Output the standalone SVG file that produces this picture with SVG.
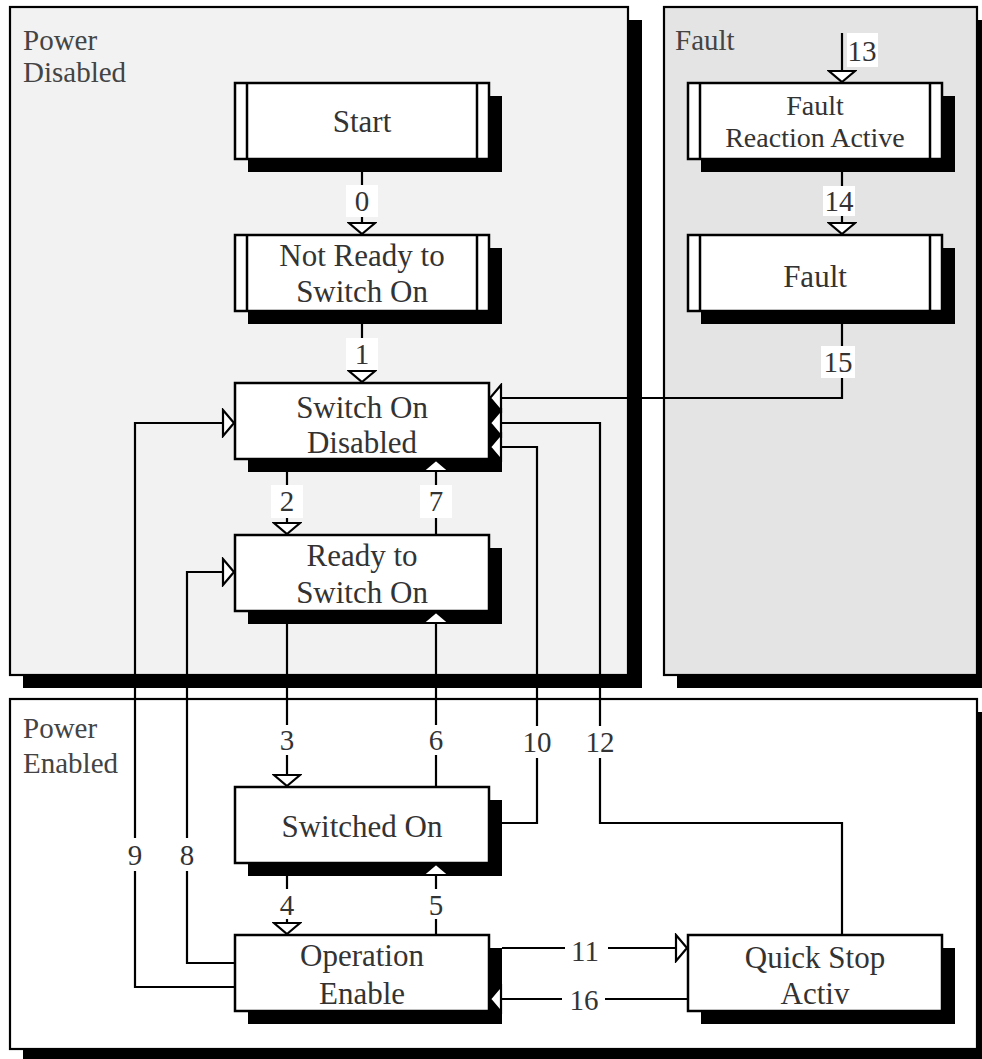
<svg xmlns="http://www.w3.org/2000/svg" width="982" height="1059" viewBox="0 0 982 1059">
<defs>
<style>
.panel{stroke:#000;stroke-width:2.2}
.shadow{fill:#000}
.box{fill:#fff;stroke:#000;stroke-width:2.5}
.inner{stroke:#000;stroke-width:2.5}
.t{font-family:"Liberation Serif","Times New Roman",serif;font-size:31px;fill:#333;text-anchor:middle}
.pl{font-family:"Liberation Serif","Times New Roman",serif;font-size:29px;fill:#444}
.small{font-size:28px}
.c{fill:none;stroke:#000;stroke-width:2.2;marker-end:url(#arr)}
.lbg{fill:#fff}
.lt{font-family:"Liberation Serif","Times New Roman",serif;font-size:29px;fill:#333;text-anchor:middle}
</style>
<marker id="arr" viewBox="-15 -15 17 30" markerWidth="17" markerHeight="30" refX="0" refY="0" orient="auto" markerUnits="userSpaceOnUse">
<path d="M-1,0 L-12,-13 L-12,13 Z" fill="#fff" stroke="#000" stroke-width="2.2"/>
</marker>
</defs>

<g id="panel-power-disabled">
<rect class="shadow" x="23" y="20" width="619" height="668"/>
<rect class="panel" x="10" y="7" width="618" height="668" fill="#f2f2f2"/>
<text class="pl" x="23" y="50">Power</text>
<text class="pl" x="23" y="82">Disabled</text>
</g>
<g id="panel-fault">
<rect class="shadow" x="677" y="20" width="320" height="668"/>
<rect class="panel" x="664" y="7" width="313" height="668" fill="#e4e4e4"/>
<text class="pl" x="675" y="50">Fault</text>
</g>
<g id="panel-power-enabled">
<rect class="shadow" x="23" y="712" width="980" height="360"/>
<rect class="panel" x="10" y="699" width="967" height="350" fill="#fff"/>
<text class="pl" x="23" y="738">Power</text>
<text class="pl" x="23" y="773">Enabled</text>
</g>

<g id="node-start">
<rect class="shadow" x="248" y="96" width="254" height="76"/>
<rect class="box" x="235" y="83" width="254" height="76"/>
<line class="inner" x1="247" y1="83" x2="247" y2="159"/>
<line class="inner" x1="477" y1="83" x2="477" y2="159"/>
<text class="t" x="362" y="132">Start</text>
</g>
<g id="node-not-ready">
<rect class="shadow" x="248" y="248" width="254" height="76"/>
<rect class="box" x="235" y="235" width="254" height="76"/>
<line class="inner" x1="247" y1="235" x2="247" y2="311"/>
<line class="inner" x1="477" y1="235" x2="477" y2="311"/>
<text class="t" x="362" y="266">Not Ready to</text>
<text class="t" x="362" y="302">Switch On</text>
</g>
<g id="node-switch-on-disabled">
<rect class="shadow" x="248" y="396" width="254" height="76"/>
<rect class="box" x="235" y="383" width="254" height="76"/>
<text class="t" x="362" y="418">Switch On</text>
<text class="t" x="362" y="453">Disabled</text>
</g>
<g id="node-ready">
<rect class="shadow" x="248" y="548" width="254" height="76"/>
<rect class="box" x="235" y="535" width="254" height="76"/>
<text class="t" x="362" y="566">Ready to</text>
<text class="t" x="362" y="603">Switch On</text>
</g>
<g id="node-switched-on">
<rect class="shadow" x="248" y="800" width="254" height="76"/>
<rect class="box" x="235" y="787" width="254" height="76"/>
<text class="t" x="362" y="837">Switched On</text>
</g>
<g id="node-operation-enable">
<rect class="shadow" x="248" y="948" width="254" height="76"/>
<rect class="box" x="235" y="935" width="254" height="76"/>
<text class="t" x="362" y="966">Operation</text>
<text class="t" x="362" y="1004">Enable</text>
</g>
<g id="node-quick-stop">
<rect class="shadow" x="701" y="948" width="254" height="76"/>
<rect class="box" x="688" y="935" width="254" height="76"/>
<text class="t" x="815" y="968">Quick Stop</text>
<text class="t" x="815" y="1004">Activ</text>
</g>
<g id="node-fault-reaction">
<rect class="shadow" x="701" y="96" width="254" height="76"/>
<rect class="box" x="688" y="83" width="254" height="76"/>
<line class="inner" x1="700" y1="83" x2="700" y2="159"/>
<line class="inner" x1="930" y1="83" x2="930" y2="159"/>
<text class="t small" x="815" y="115">Fault</text>
<text class="t small" x="815" y="147">Reaction Active</text>
</g>
<g id="node-fault">
<rect class="shadow" x="701" y="248" width="254" height="76"/>
<rect class="box" x="688" y="235" width="254" height="76"/>
<line class="inner" x1="700" y1="235" x2="700" y2="311"/>
<line class="inner" x1="930" y1="235" x2="930" y2="311"/>
<text class="t" x="815" y="287">Fault</text>
</g>

<g id="connectors">
<path class="c" d="M362,172 V235"/>
<path class="c" d="M362,324 V383"/>
<path class="c" d="M287,472 V535"/>
<path class="c" d="M436,535 V459"/>
<path class="c" d="M287,624 V787"/>
<path class="c" d="M436,787 V611"/>
<path class="c" d="M287,876 V935"/>
<path class="c" d="M436,935 V863"/>
<path class="c" d="M235,987 H135 V423 H235"/>
<path class="c" d="M235,963 H187 V572 H235"/>
<path class="c" d="M502,823 H537 V447 H489"/>
<path class="c" d="M842,935 V823 H600 V423 H489"/>
<path class="c" d="M502,948 H688"/>
<path class="c" d="M688,999 H489"/>
<path class="c" d="M842,33 V83"/>
<path class="c" d="M842,172 V235"/>
<path class="c" d="M842,324 V398 H489"/>

<g id="labels">
<rect class="lbg" x="346" y="185" width="32" height="32"/><text class="lt" x="362" y="211">0</text>
<rect class="lbg" x="346" y="338" width="32" height="32"/><text class="lt" x="362" y="364">1</text>
<rect class="lbg" x="271" y="485" width="32" height="33"/><text class="lt" x="287" y="511">2</text>
<rect class="lbg" x="420" y="485" width="32" height="33"/><text class="lt" x="436" y="511">7</text>
<rect class="lbg" x="271" y="725" width="32" height="30"/><text class="lt" x="287" y="750">3</text>
<rect class="lbg" x="420" y="725" width="32" height="30"/><text class="lt" x="436" y="750">6</text>
<rect class="lbg" x="518" y="726" width="38" height="32"/><text class="lt" x="537" y="752">10</text>
<rect class="lbg" x="581" y="726" width="38" height="32"/><text class="lt" x="600" y="752">12</text>
<rect class="lbg" x="119" y="838" width="32" height="33"/><text class="lt" x="135" y="865">9</text>
<rect class="lbg" x="171" y="838" width="32" height="33"/><text class="lt" x="187" y="865">8</text>
<rect class="lbg" x="271" y="889" width="32" height="30"/><text class="lt" x="287" y="915">4</text>
<rect class="lbg" x="420" y="889" width="32" height="30"/><text class="lt" x="436" y="915">5</text>
<rect class="lbg" x="565" y="935" width="43" height="30"/><text class="lt" x="585" y="961">11</text>
<rect class="lbg" x="562" y="985" width="43" height="30"/><text class="lt" x="584" y="1010">16</text>
<rect class="lbg" x="847" y="33" width="31" height="34"/><text class="lt" x="862" y="61">13</text>
<rect class="lbg" x="823" y="186" width="32" height="30"/><text class="lt" x="839" y="211">14</text>
<rect class="lbg" x="821" y="346" width="34" height="32"/><text class="lt" x="838" y="372">15</text>
</g>
</g>
</svg>
